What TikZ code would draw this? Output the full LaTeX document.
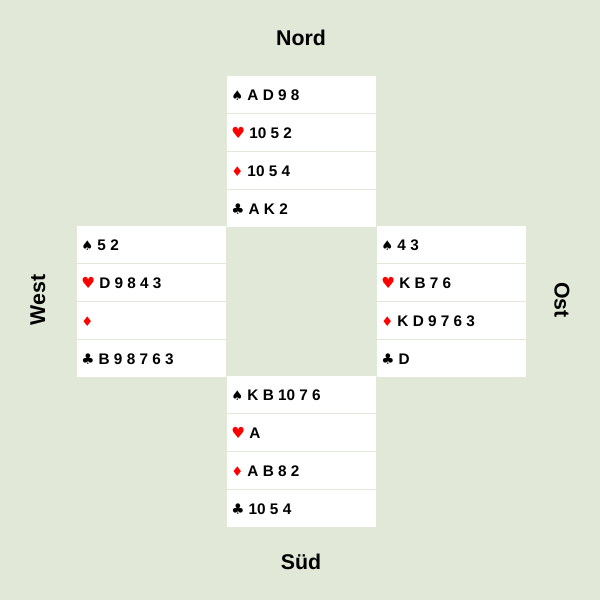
\documentclass[tikz,border=0pt]{standalone}
\usepackage{fontspec}
\setmainfont{Liberation Sans}
\newfontfamily\symf{DejaVu Sans}
\definecolor{bg}{HTML}{E2E8D8}
\definecolor{rd}{HTML}{FF0000}
\begin{document}
\begin{tikzpicture}[x=0.75pt,y=-0.75pt,
  cell/.style={fill=white,draw=none},
  txt/.style={anchor=base west,font=\bfseries\fontsize{11.5}{12}\selectfont,inner sep=0pt},
  head/.style={font=\bfseries\fontsize{16}{18}\selectfont}]
\fill[bg] (0,0) rectangle (600,600);
\useasboundingbox (0,0) rectangle (600,600);
\newcommand\suitS{{\symf\fontsize{10}{12}\selectfont ♠}}
\newcommand\suitH{{\symf\color{rd}\fontsize{11.5}{12}\selectfont ♥}}
\newcommand\suitD{{\symf\color{rd}\fontsize{10}{12}\selectfont ♦}}
\newcommand\suitC{{\symf\fontsize{11}{12}\selectfont ♣}}
\newcommand\myhand[6]{%
  \fill[cell] (#1,#2) rectangle ++(149,37);
  \fill[cell] (#1,#2+38) rectangle ++(149,37);
  \fill[cell] (#1,#2+76) rectangle ++(149,37);
  \fill[cell] (#1,#2+114) rectangle ++(149,37);
  \node[txt] at (#1+4,#2+24) {\suitS\ #3};
  \node[txt] at (#1+4,#2+62) {\suitH\ #4};
  \node[txt] at (#1+4,#2+100) {\suitD\ #5};
  \node[txt] at (#1+4,#2+138) {\suitC\ #6};}
\myhand{227}{76}{A D 9 8}{10 5 2}{10 5 4}{A K 2}
\myhand{77}{226}{5 2}{D 9 8 4 3}{}{B 9 8 7 6 3}
\myhand{377}{226}{4 3}{K B 7 6}{K D 9 7 6 3}{D}
\myhand{227}{376}{K B 10 7 6}{A}{A B 8 2}{10 5 4}
\node[head] (n) at (301,38) {Nord};
\node[head] (s) at (301,562) {Süd};
\node[head,rotate=90] (w) at (38,300) {West};
\node[head,rotate=-90] (o) at (562,300) {Ost};
\end{tikzpicture}
\end{document}
